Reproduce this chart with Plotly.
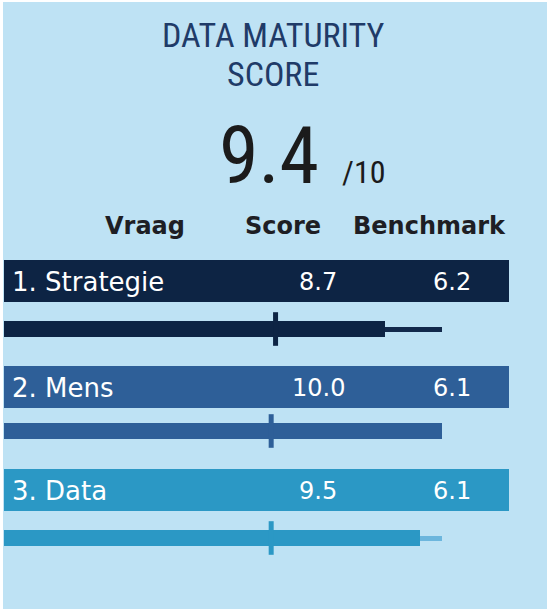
import plotly.graph_objects as go

# ---- data ----
categories = ["1. Strategie", "2. Mens", "3. Data"]
scores = [8.7, 10.0, 9.5]
benchmarks = [6.2, 6.1, 6.1]
max_score = 10
overall_score = 9.4
title_lines = ["DATA MATURITY", "SCORE"]
headers = ["Vraag", "Score", "Benchmark"]

# ---- styles ----
row_colors = ["#0d2444", "#2e5f98", "#2b98c5"]
track_colors = ["#12294b", "#2e5f98", "#6cb6dd"]
bg = "#bee2f4"
W, H = 547, 611

# layout geometry (page pixels)
L, T, B = 3, 2, 2
x_zero_px, x_max_px = 4, 442
px_per_unit = (x_max_px - x_zero_px) / max_score
x0 = -(x_zero_px - L) / px_per_unit
x1 = x0 + (W - L) / px_per_unit


def px2x(px):
    return (px - x_zero_px) / px_per_unit


band_centers = [281, 387, 490]
bar_centers = [329, 431, 538]
band_h = 42
band_end_px = 509

fig = go.Figure()

# full-scale track (thin line)
fig.add_trace(go.Bar(
    x=[max_score] * len(categories), y=bar_centers, orientation="h",
    width=5, marker=dict(color=track_colors, line=dict(width=0)),
    hoverinfo="skip", showlegend=False))
# score bars
fig.add_trace(go.Bar(
    x=scores, y=bar_centers, orientation="h", width=16,
    marker=dict(color=row_colors, line=dict(width=0)),
    showlegend=False))
# benchmark ticks
fig.add_trace(go.Scatter(
    x=benchmarks, y=bar_centers, mode="markers",
    marker=dict(symbol="line-ns", size=24,
                line=dict(width=5, color=row_colors)),
    showlegend=False))

shapes = []
annotations = []
row_font = "DejaVu Sans, Verdana, sans-serif"
for i, cat in enumerate(categories):
    yc = band_centers[i]
    shapes.append(dict(type="rect", xref="x", yref="y", x0=0, x1=px2x(band_end_px),
                       y0=yc - band_h / 2, y1=yc + band_h / 2,
                       fillcolor=row_colors[i], line=dict(width=0), layer="below"))
    annotations.append(dict(x=px2x(10), y=yc + 1, text=cat, xanchor="left", yanchor="middle",
                            showarrow=False, font=dict(family=row_font, size=26, color="white")))
    annotations.append(dict(x=px2x(318), y=yc + 1, text=f"{scores[i]:.1f}", xanchor="center",
                            yanchor="middle", showarrow=False,
                            font=dict(family=row_font, size=24, color="white")))
    annotations.append(dict(x=px2x(452), y=yc + 1, text=f"{benchmarks[i]:.1f}", xanchor="center",
                            yanchor="middle", showarrow=False,
                            font=dict(family=row_font, size=24, color="white")))

# headers
for txt, cx in zip(headers, [145, 283, 429]):
    annotations.append(dict(x=px2x(cx), y=226, text=f"<b>{txt}</b>", xanchor="center",
                            yanchor="middle", showarrow=False,
                            font=dict(family=row_font, size=24, color="#1e1e24")))

title_font = "Liberation Sans Narrow, Roboto Condensed, Roboto, sans-serif"
for txt, cy in zip(title_lines, [35, 74]):
    annotations.append(dict(x=px2x(273), y=cy, text=txt, xanchor="center", yanchor="middle",
                            showarrow=False,
                            font=dict(family=title_font, size=34, color="#1f3b68")))

# big score
annotations.append(dict(x=px2x(321), y=156, text=f"{overall_score:.1f}", xanchor="right",
                        yanchor="middle", showarrow=False, height=66, valign="middle",
                        font=dict(family=title_font, size=80, color="#1b1b1b")))
annotations.append(dict(x=px2x(340), y=193, text=f"/{max_score}", xanchor="left",
                        yanchor="bottom", showarrow=False,
                        font=dict(family=title_font, size=32, color="#1b1b1b")))

fig.update_layout(
    width=W, height=H,
    margin=dict(l=L, r=0, t=T, b=B, pad=0),
    paper_bgcolor="white", plot_bgcolor=bg,
    barmode="overlay", bargap=0,
    xaxis=dict(range=[x0, x1], visible=False, fixedrange=True),
    yaxis=dict(range=[H - B, T], visible=False, fixedrange=True),
    shapes=shapes, annotations=annotations,
    showlegend=False,
)

fig.write_html("out.html", post_script="document.body.style.margin='0';",
               config={"displayModeBar": False})
